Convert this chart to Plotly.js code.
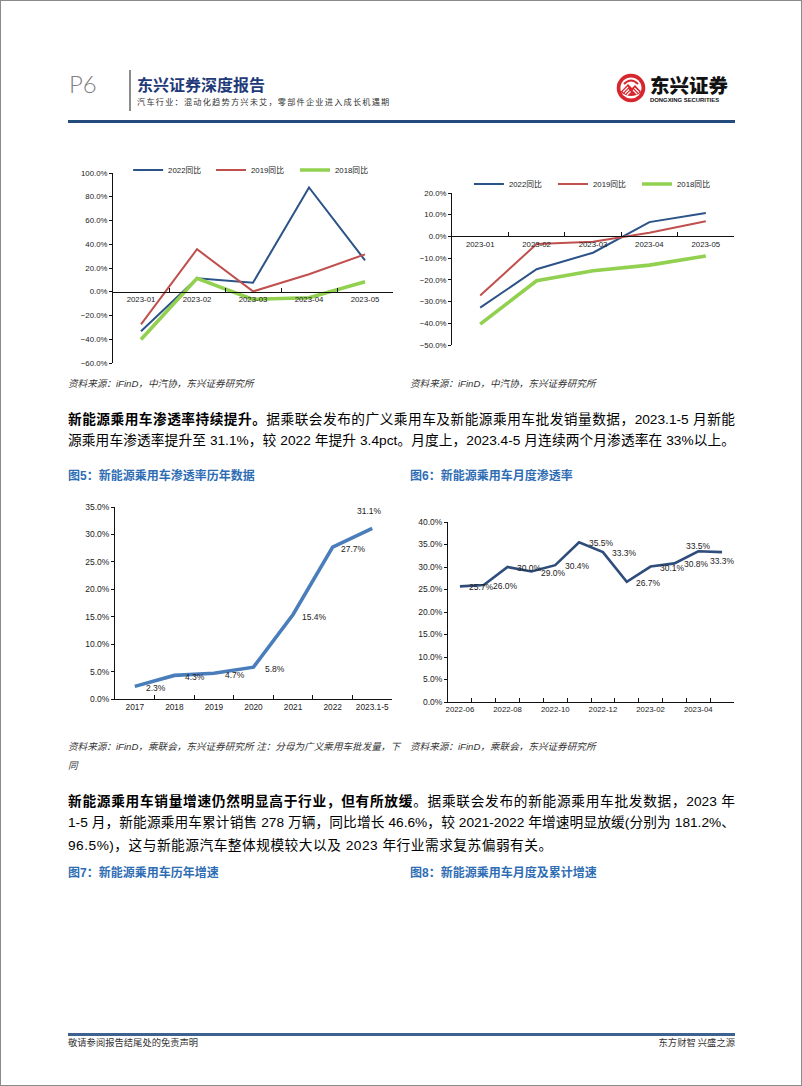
<!DOCTYPE html>
<html lang="zh-CN"><head><meta charset="utf-8">
<script src="https://cdn.plot.ly/plotly-3.0.1.min.js"></script>
<style>
html,body{margin:0;padding:0;background:#fff;}
#page{position:relative;width:802px;height:1086px;overflow:hidden;background:#fff;font-family:"Liberation Sans","Noto Sans CJK SC",sans-serif;color:#000;}
#frame{position:absolute;left:0;top:0;width:800px;height:1084px;border:1px solid #8a8a8a;pointer-events:none;}
.abs{position:absolute;white-space:nowrap;}
.para{position:absolute;left:68px;width:667px;font-size:13.7px;line-height:18px;height:18px;text-align:justify;text-align-last:justify;white-space:nowrap;}
.para.last{text-align:left;text-align-last:left;letter-spacing:0.5px;}
.para b{font-family:"Noto Sans CJK SC",sans-serif;font-weight:700;}
.src{position:absolute;font-size:9.6px;line-height:12px;font-style:italic;color:#333;white-space:nowrap;}
.fig{position:absolute;font-size:12px;line-height:16px;font-weight:700;color:#2E6DB4;font-family:"Liberation Sans","Noto Sans CJK SC",sans-serif;white-space:nowrap;}
.chart{position:absolute;}
</style></head>
<body>
<div id="page">
  <!-- header -->
  <div class="abs" style="left:69px;top:70px;font-family:Lato,'Liberation Sans';font-weight:300;font-size:24px;line-height:28px;color:#7f7f7f;">P6</div>
  <div class="abs" style="left:129px;top:70px;width:1.5px;height:41px;background:#8c8c8c;"></div>
  <div class="abs" style="left:137px;top:76px;font-family:'Noto Sans CJK SC';font-weight:700;font-size:16px;line-height:16px;color:#1F3A78;">东兴证券深度报告</div>
  <div class="abs" style="left:137px;top:97.3px;font-family:'Noto Sans CJK SC';font-size:8.2px;letter-spacing:1.2px;line-height:9px;color:#333;">汽车行业：混动化趋势方兴未艾，零部件企业进入成长机遇期</div>
  <svg class="abs" style="left:616px;top:73px;" width="30" height="30" viewBox="0 0 30 30">
    <circle cx="15" cy="15" r="14.3" fill="#D7262E"/>
    <circle cx="15" cy="15" r="10.6" fill="#fff"/>
    <path d="M4.5 19 L12 11 L16 15 L19 12 L25.5 19 Q15 27 4.5 19 Z" fill="#D7262E"/>
    <path d="M7 19 L12 14 M9 20.5 L13 16.5 M11 22 L14.5 18.5 M17 17 L21 21 M18.5 15 L23 19.5" stroke="#fff" stroke-width="1.1"/>
    <path d="M8 11 Q15 4 22 11" stroke="#D7262E" stroke-width="2" fill="none"/>
  </svg>
  <div class="abs" style="left:650px;top:75px;font-family:'Noto Sans CJK SC';font-weight:900;font-size:19.5px;line-height:20px;color:#111;">东兴证券</div>
  <div class="abs" style="left:650px;top:97px;font-family:'Liberation Sans';font-weight:700;font-size:5.9px;line-height:7px;color:#111;">DONGXING SECURITIES</div>
  <div class="abs" style="left:68px;top:120px;width:667px;height:3px;background:#234B7E;"></div>

  <!-- charts row 1 -->
  <div id="c1" class="chart" style="left:60px;top:160px;width:340px;height:215px;"></div>
  <div id="c2" class="chart" style="left:400px;top:160px;width:340px;height:215px;"></div>
  <div class="src" style="left:68px;top:378px;">资料来源：iFinD，中汽协，东兴证券研究所</div>
  <div class="src" style="left:410px;top:378px;">资料来源：iFinD，中汽协，东兴证券研究所</div>

  <div class="para" style="top:409px;"><b>新能源乘用车渗透率持续提升。</b>据乘联会发布的广义乘用车及新能源乘用车批发销量数据，2023.1-5 月新能</div>
  <div class="para" style="top:432px;">源乘用车渗透率提升至 31.1%，较 2022 年提升 3.4pct。月度上，2023.4-5 月连续两个月渗透率在 33%以上。</div>

  <div class="fig" style="left:68px;top:468px;">图5：新能源乘用车渗透率历年数据</div>
  <div class="fig" style="left:410px;top:468px;">图6：新能源乘用车月度渗透率</div>

  <!-- charts row 2 -->
  <div id="c5" class="chart" style="left:60px;top:490px;width:340px;height:232px;"></div>
  <div id="c6" class="chart" style="left:400px;top:490px;width:360px;height:232px;"></div>
  <div class="src" style="left:68px;top:741px;width:324px;text-align:justify;text-align-last:justify;">资料来源：iFinD，乘联会，东兴证券研究所 注：分母为广义乘用车批发量，下</div>
  <div class="src" style="left:68px;top:760px;">同</div>
  <div class="src" style="left:410px;top:741px;">资料来源：iFinD，乘联会，东兴证券研究所</div>

  <div class="para" style="top:791px;"><b>新能源乘用车销量增速仍然明显高于行业，但有所放缓</b>。据乘联会发布的新能源乘用车批发数据，2023 年</div>
  <div class="para" style="top:814px;">1-5 月，新能源乘用车累计销售 278 万辆，同比增长 46.6%，较 2021-2022 年增速明显放缓(分别为 181.2%、</div>
  <div class="para last" style="top:837px;">96.5%)，这与新能源汽车整体规模较大以及 2023 年行业需求复苏偏弱有关。</div>

  <div class="fig" style="left:68px;top:865px;">图7：新能源乘用车历年增速</div>
  <div class="fig" style="left:410px;top:865px;">图8：新能源乘用车月度及累计增速</div>

  <!-- footer -->
  <div class="abs" style="left:68px;top:1033px;width:667px;height:2.5px;background:#3E6290;"></div>
  <div class="abs" style="left:68px;top:1036px;font-family:'Noto Sans CJK SC';font-size:9.3px;line-height:12px;color:#333;">敬请参阅报告结尾处的免责声明</div>
  <div class="abs" style="right:67px;top:1036px;font-family:'Noto Sans CJK SC';font-size:9.3px;line-height:12px;color:#333;">东方财智 兴盛之源</div>
  <div id="frame"></div>
</div>
<script>
// ---------- data ----------
const months23 = ['2023-01','2023-02','2023-03','2023-04','2023-05'];
const seriesNames = ['2022同比','2019同比','2018同比'];
// monthly passenger-car sales YoY (%)
const monthly2022 = [-33.2, 11.3, 7.6, 87.8, 26.5];
const monthly2019 = [-27.5, 35.8, 0.3, 14.7, 31.5];
const monthly2018 = [-40.2, 11.3, -6.4, -5.0, 8.4];
// cumulative passenger-car sales YoY (%)
const cumul2022 = [-32.8, -15.1, -7.5, 6.6, 10.8];
const cumul2019 = [-27.2, -3.5, -2.5, 1.7, 7.0];
const cumul2018 = [-40.4, -20.4, -15.8, -13.2, -9.0];
// NEV penetration by year (%)
const years = ['2017','2018','2019','2020','2021','2022','2023.1-5'];
const penYear = [2.3, 4.3, 4.7, 5.8, 15.4, 27.7, 31.1];
// NEV penetration by month (%)
const monthsPen = ['2022-06','2022-07','2022-08','2022-09','2022-10','2022-11','2022-12','2023-01','2023-02','2023-03','2023-04','2023-05'];
const penMonth = [25.7, 26.0, 30.0, 29.0, 30.4, 35.5, 33.3, 26.7, 30.1, 30.8, 33.5, 33.3];

// ---------- styles ----------
const FONT = 'Liberation Sans, Noto Sans CJK SC, sans-serif';
const lineColors = ['#2B5387', '#C0504D', '#92D050'];
const lineWidths = [2, 2, 3.6];
const legendIds = ['legend', 'legend2', 'legend3'];
const cfg = {staticPlot: true, displayModeBar: false};

function yoyChart(id, series, yRange, dtick, margin, legendXs, legendY) {
  const traces = series.map((s, i) => ({
    type: 'scatter', mode: 'lines', x: months23, y: s, name: seriesNames[i],
    legend: legendIds[i],
    line: {color: lineColors[i], width: lineWidths[i]}
  }));
  const layout = {
    width: 340, height: 215, margin: margin,
    paper_bgcolor: 'rgba(0,0,0,0)', plot_bgcolor: 'rgba(0,0,0,0)',
    font: {family: FONT, size: 7.8, color: '#222'},
    showlegend: true,
    xaxis: {type: 'category', range: [-0.5, months23.length - 0.5], anchor: 'free',
            position: (0 - yRange[0]) / (yRange[1] - yRange[0]),
            showline: true, linecolor: '#111', linewidth: 1, ticks: 'inside', ticklen: 4,
            tickcolor: '#111', tickson: 'boundaries', showgrid: false, zeroline: false,
            tickangle: 0, tickfont: {family: FONT, size: 7.8, color: '#222'}},
    yaxis: {range: yRange, dtick: dtick, tick0: 0, tickformat: '.1f', ticksuffix: '%',
            showline: true, linecolor: '#111', linewidth: 1, ticks: 'outside', ticklen: 3,
            tickcolor: '#111', showgrid: false, zeroline: false,
            tickfont: {family: FONT, size: 7.8, color: '#222'}}
  };
  legendIds.forEach((lid, i) => {
    layout[lid] = {orientation: 'h', x: legendXs[i], y: legendY, xanchor: 'left', yanchor: 'middle',
                   font: {family: FONT, size: 7.8, color: '#222'}, bgcolor: 'rgba(0,0,0,0)',
                   itemwidth: 30};
  });
  Plotly.newPlot(id, traces, layout, cfg);
}

yoyChart('c1', [monthly2022, monthly2019, monthly2018], [-60, 100], 20,
         {l: 53, r: 7, t: 13, b: 12, pad: 0, autoexpand: false}, [0.054, 0.350, 0.650], 1.016);
yoyChart('c2', [cumul2022, cumul2019, cumul2018], [-50, 20], 10,
         {l: 52, r: 6, t: 33, b: 30, pad: 0, autoexpand: false}, [0.060, 0.358, 0.656], 1.059);

function penChart(id, cats, vals, opts) {
  const annotations = vals.map((v, i) => {
    const s = opts.shift(i, vals.length);
    return {x: i, y: v, text: v.toFixed(1) + '%', showarrow: false,
            xanchor: 'center', yanchor: 'middle', xshift: s[0], yshift: s[1],
            font: {family: FONT, size: opts.labelSize, color: '#222'}};
  });
  const tickText = cats.map((c, i) => (i % opts.labelEvery === 0 ? c : ''));
  const layout = {
    width: opts.w, height: opts.h, margin: opts.margin,
    paper_bgcolor: 'rgba(0,0,0,0)', plot_bgcolor: 'rgba(0,0,0,0)',
    font: {family: FONT, size: 8.5, color: '#222'}, showlegend: false,
    annotations: annotations,
    xaxis: {type: 'category', range: [-0.5, cats.length - 0.5],
            tickmode: 'array', tickvals: cats.map((c, i) => i), ticktext: tickText,
            showline: true, linecolor: '#111', linewidth: 1, ticks: 'inside', ticklen: 4,
            tickcolor: '#111', tickson: 'boundaries', showgrid: false, zeroline: false,
            tickangle: 0, tickfont: {family: FONT, size: opts.xTickSize, color: '#222'}},
    yaxis: {range: opts.yRange, dtick: 5, tick0: 0, tickformat: '.1f', ticksuffix: '%',
            showline: true, linecolor: '#111', linewidth: 1, ticks: 'outside', ticklen: 3,
            tickcolor: '#111', showgrid: false, zeroline: false,
            tickfont: {family: FONT, size: 8.5, color: '#222'}}
  };
  Plotly.newPlot(id, [{type: 'scatter', mode: 'lines', x: cats, y: vals,
                       line: {color: opts.color, width: opts.width}}], layout, cfg);
}

penChart('c5', years, penYear, {
  w: 340, h: 232, margin: {l: 55, r: 8, t: 17, b: 23, pad: 0, autoexpand: false}, yRange: [0, 35],
  color: '#4A7EBB', width: 3.6, labelSize: 8.5, xTickSize: 8.3, labelEvery: 1,
  shift: (i, n) => (i === n - 1 ? [-3, 17] : [21, -2])
});
penChart('c6', monthsPen, penMonth, {
  w: 360, h: 232, margin: {l: 48, r: 26, t: 32, b: 20, pad: 0, autoexpand: false}, yRange: [0, 40],
  color: '#2E4D7B', width: 2.6, labelSize: 8.5, xTickSize: 7.8, labelEvery: 2,
  shift: (i, n) => (i === n - 2 ? [0, 5] : (i === n - 1 ? [0, -9] : [22, -1]))
});
</script>
</body></html>
